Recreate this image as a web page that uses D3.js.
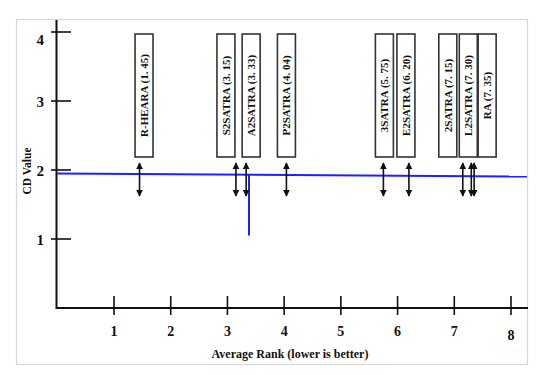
<!DOCTYPE html>
<html lang="en">
<head>
<meta charset="utf-8">
<title>CD diagram</title>
<script src="https://cdn.jsdelivr.net/npm/d3@7"></script>
<style>
body { margin:0; background:#fff; }
text { font-family:"Liberation Serif","Times New Roman",serif; font-weight:bold; fill:#111; }
</style>
</head>
<body>
<svg id="paper" width="542" height="375"></svg>
<script>
// data
var methods = ["R-HEARA", "S2SATRA", "A2SATRA", "P2SATRA", "3SATRA", "E2SATRA", "2SATRA", "L2SATRA", "RA"];
var ranks   = [1.45, 3.15, 3.33, 4.04, 5.75, 6.20, 7.15, 7.30, 7.35];
var rankLabels = ["1. 45", "3. 15", "3. 33", "4. 04", "5. 75", "6. 20", "7. 15", "7. 30", "7. 35"];
var xTicks = [1, 2, 3, 4, 5, 6, 7, 8];
var yTicks = [1, 2, 3, 4];
var cdLine = [[0, 1.95], [8.28, 1.905]];   // blue CD line
var cdDrop = [[3.38, 1.93], [3.38, 1.05]];  // blue vertical drop

// layout
var boxShift = [4.5, -10, 5, 0, 1, -3, -15, -3, 13];  // box centre vs arrow, px
var boxW = 18, boxTop = 34, boxBot = 157;
var arrTop = 163, arrBot = 196;

var svg = d3.select("#paper");

var x = d3.scaleLinear().domain([0, 8]).range([57.3, 511]);
var y = d3.scaleLinear().domain([0, 4]).range([308, 32]);

// frame
svg.append("rect").attr("x", 16.5).attr("y", 19.5).attr("width", 511).attr("height", 345)
  .attr("fill", "none").attr("stroke", "#d8d8d8").attr("stroke-width", 1.2);

// axes
svg.append("line").attr("x1", 56.5).attr("x2", 56.5).attr("y1", 20).attr("y2", 309)
  .attr("stroke", "#111").attr("stroke-width", 2);
svg.append("line").attr("x1", 56).attr("x2", 528).attr("y1", 308).attr("y2", 308)
  .attr("stroke", "#111").attr("stroke-width", 2);

svg.selectAll(".yt").data(yTicks).enter().append("line")
  .attr("x1", 51).attr("x2", 71)
  .attr("y1", function(d){ return y(d); }).attr("y2", function(d){ return y(d); })
  .attr("stroke", "#111").attr("stroke-width", 1.6);
svg.selectAll(".ytl").data(yTicks).enter().append("text")
  .attr("x", 44).attr("y", function(d){ return y(d) + (d == 4 ? 13 : 6); })
  .attr("text-anchor", "end").attr("font-size", 15)
  .text(function(d){ return d; });

svg.selectAll(".xt").data(xTicks).enter().append("line")
  .attr("x1", function(d){ return x(d); }).attr("x2", function(d){ return x(d); })
  .attr("y1", 296).attr("y2", 315)
  .attr("stroke", "#111").attr("stroke-width", 1.6);
svg.selectAll(".xtl").data(xTicks).enter().append("text")
  .attr("x", function(d){ return x(d); }).attr("y", function(d){ return d == 8 ? 340 : 336; })
  .attr("text-anchor", "middle").attr("font-size", 14)
  .text(function(d){ return d; });

svg.append("text").attr("x", 290).attr("y", 358).attr("text-anchor", "middle")
  .attr("font-size", 12).text("Average Rank (lower is better)");
svg.append("text").attr("transform", "translate(31,171) rotate(-90)")
  .attr("text-anchor", "middle").attr("font-size", 11.5).text("CD Value");

// CD line
var line = d3.line().x(function(d){ return x(d[0]); }).y(function(d){ return y(d[1]); });
svg.append("path").attr("d", line(cdLine)).attr("fill", "none")
  .attr("stroke", "#1f1fff").attr("stroke-width", 2);
svg.append("path").attr("d", line(cdDrop)).attr("fill", "none")
  .attr("stroke", "#1f1fff").attr("stroke-width", 2);

// arrows
var defs = svg.append("defs");
defs.append("marker").attr("id", "ah").attr("viewBox", "0 0 10 10")
  .attr("refX", 9).attr("refY", 5).attr("markerWidth", 4.5).attr("markerHeight", 4.5)
  .attr("orient", "auto-start-reverse").attr("markerUnits", "strokeWidth")
  .append("path").attr("d", "M0,0L10,5L0,10Z").attr("fill", "#111");

svg.selectAll(".arr").data(ranks).enter().append("line")
  .attr("x1", function(d){ return x(d); }).attr("x2", function(d){ return x(d); })
  .attr("y1", arrTop).attr("y2", arrBot)
  .attr("stroke", "#111").attr("stroke-width", 1.6)
  .attr("marker-start", "url(#ah)").attr("marker-end", "url(#ah)");

// labelled boxes
var g = svg.selectAll(".box").data(methods).enter().append("g")
  .attr("transform", function(d, i){ return "translate(" + (x(ranks[i]) + boxShift[i]) + ",0)"; });
g.append("rect").attr("x", -boxW / 2).attr("y", boxTop).attr("width", boxW).attr("height", boxBot - boxTop)
  .attr("fill", "#fff").attr("stroke", "#333").attr("stroke-width", 1.6);
g.append("text")
  .attr("transform", "translate(4," + ((boxTop + boxBot) / 2) + ") rotate(-90)")
  .attr("text-anchor", "middle").attr("font-size", 11)
  .text(function(d, i){ return d + " (" + rankLabels[i] + ")"; });
</script>
</body>
</html>
